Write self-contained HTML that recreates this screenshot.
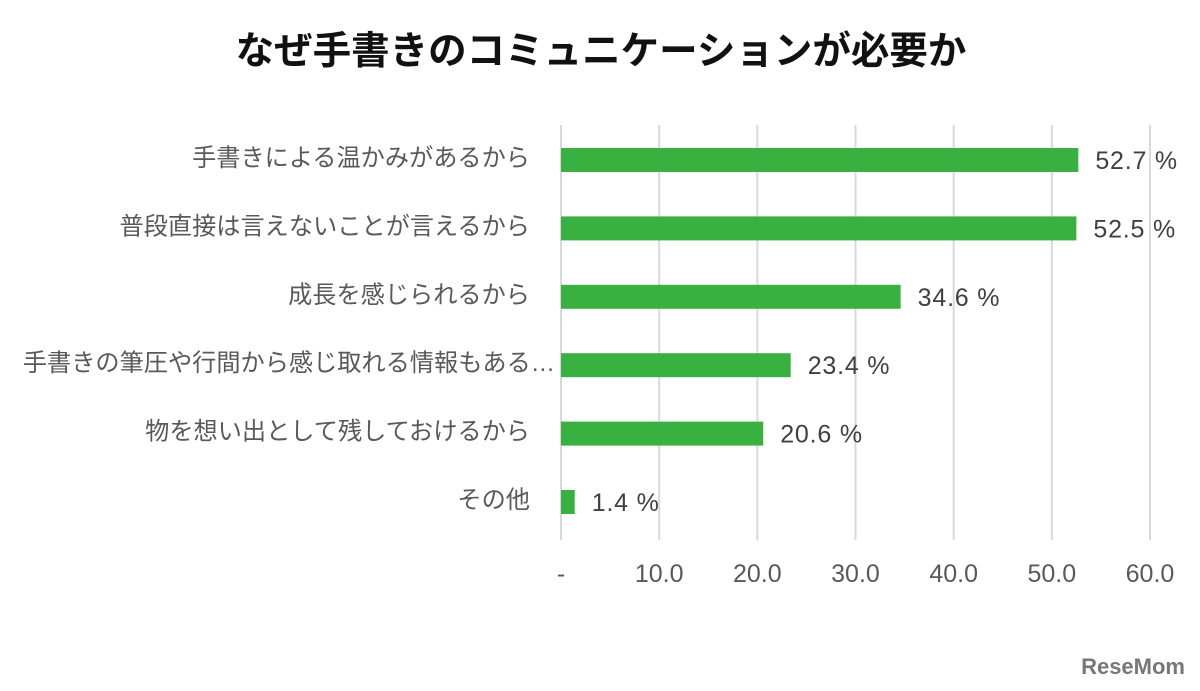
<!DOCTYPE html>
<html><head><meta charset="utf-8"><style>
body{margin:0;background:#fff;}
svg{display:block;font-family:"Liberation Sans","Noto Sans CJK JP",sans-serif;}
</style></head><body>
<svg id="c" width="1200" height="691">
<text x="601" y="64" text-anchor="middle" font-size="38.5" font-weight="bold" fill="#111">なぜ手書きのコミュニケーションが必要か</text>
<g id="grid"></g><g id="bars"></g>
<text x="1185" y="674" text-anchor="end" font-size="22" font-weight="bold" fill="#777">ReseMom</text>
</svg>
<script>
const categories=["手書きによる温かみがあるから","普段直接は言えないことが言えるから","成長を感じられるから","手書きの筆圧や行間から感じ取れる情報もある…","物を想い出として残しておけるから","その他"];
const values=[52.7,52.5,34.6,23.4,20.6,1.4];
const ticks=[0,10,20,30,40,50,60];
const tickLabels=["-","10.0","20.0","30.0","40.0","50.0","60.0"];
const NS="http://www.w3.org/2000/svg";
const x=v=>561+v*(1150-561)/60;
const y=i=>160+i*68.4;
function mk(p,t,a,txt){const e=document.createElementNS(NS,t);for(const k in a)e.setAttribute(k,a[k]);if(txt!=null)e.textContent=txt;p.appendChild(e);return e;}
const g=document.getElementById('grid'),b=document.getElementById('bars');
ticks.forEach((t,i)=>{
 const l=mk(g,'line',{x1:x(t),x2:x(t),y1:125,y2:540,stroke:'#d9d9d9','stroke-width':2});
 
 
 const tx=mk(g,'text',{x:x(t),y:582,'text-anchor':'middle','font-size':25,fill:'#595959'},tickLabels[i]);
 
 
});
categories.forEach((c,i)=>{
 const r=mk(b,'rect',{x:x(0),y:y(i)-12,width:x(values[i])-x(0),height:24,fill:'#39b140'});
 
 
 const ex=c.endsWith('…')?555:530;
 const l=mk(b,'text',{x:ex,y:y(i)+6,'text-anchor':'end','font-size':24.2,fill:'#595959'},c);
 
 
 const v=mk(b,'text',{x:x(values[i])+17,y:y(i)+9,'font-size':25,'letter-spacing':'0.8',fill:'#404040'},values[i].toFixed(1)+' %');
 
 
});
</script>
</body></html>
